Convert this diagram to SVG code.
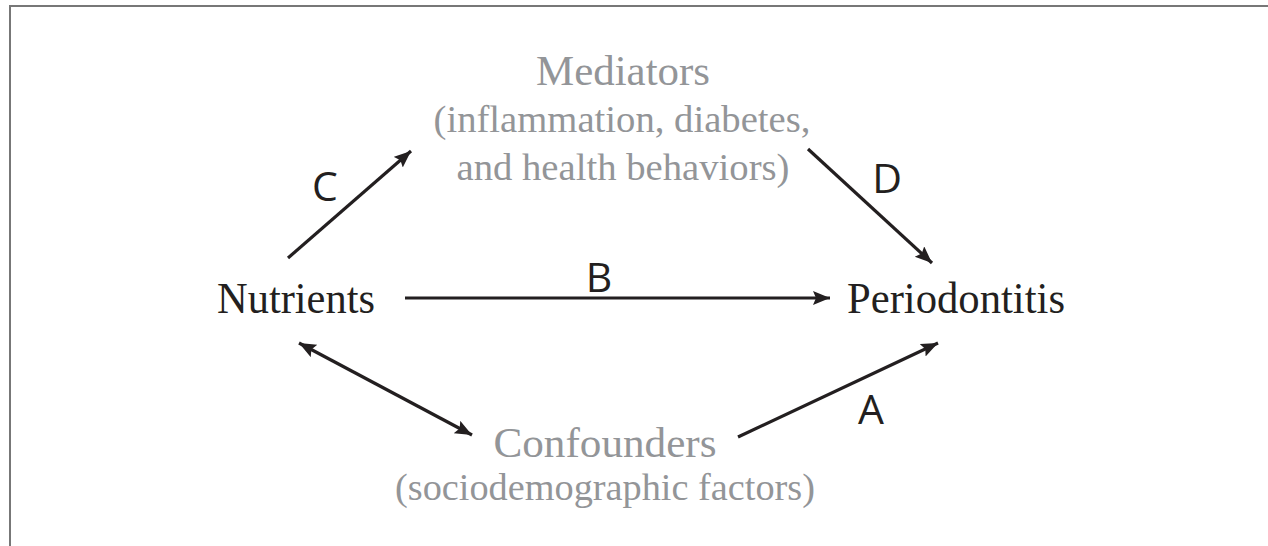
<svg xmlns="http://www.w3.org/2000/svg" width="1268" height="546" viewBox="0 0 1268 546">
  <style>
    .lbl { font-family: "Liberation Serif", "Times New Roman", serif; fill: #231f20; font-size: 44px; }
    .title { font-family: "Liberation Serif", "Times New Roman", serif; fill: #939598; font-size: 43px; }
    .sub { font-family: "Liberation Serif", "Times New Roman", serif; fill: #939598; font-size: 38px; }
    .letter { font-family: "Open Sans", "Liberation Sans", sans-serif; fill: #231f20; font-size: 41px; }
    .conn { stroke: #231f20; stroke-width: 3.2; fill: none; }
  </style>
  <defs>
    <marker id="ah" markerUnits="userSpaceOnUse" markerWidth="20" markerHeight="16" refX="17" refY="7" orient="auto-start-reverse" viewBox="0 0 20 16">
      <path d="M0,0 L17,7 L0,14 L3,7 z" fill="#231f20"/>
    </marker>
  </defs>
  <rect x="0" y="0" width="1268" height="546" fill="#ffffff"/>
  <g id="frame">
    <path d="M10,546 L10,6 L1268,6" stroke="#777777" stroke-width="2" fill="none"/>
  </g>
  <g id="mediators">
    <text class="title" x="623" y="85" text-anchor="middle" textLength="174" lengthAdjust="spacingAndGlyphs">Mediators</text>
    <text class="sub" x="622" y="132" text-anchor="middle" textLength="377" lengthAdjust="spacingAndGlyphs">(inflammation, diabetes,</text>
    <text class="sub" x="623" y="180" text-anchor="middle" textLength="333" lengthAdjust="spacingAndGlyphs">and health behaviors)</text>
  </g>
  <g id="nutrients">
    <text class="lbl" x="217" y="313" textLength="158" lengthAdjust="spacingAndGlyphs">Nutrients</text>
  </g>
  <g id="periodontitis">
    <text class="lbl" x="847" y="313" textLength="218" lengthAdjust="spacingAndGlyphs">Periodontitis</text>
  </g>
  <g id="confounders">
    <text class="title" x="605" y="457" text-anchor="middle" textLength="223" lengthAdjust="spacingAndGlyphs">Confounders</text>
    <text class="sub" x="605" y="500" text-anchor="middle" textLength="420" lengthAdjust="spacingAndGlyphs">(sociodemographic factors)</text>
  </g>
  <g id="connectors">
    <line class="conn" x1="288" y1="258" x2="411" y2="151" marker-end="url(#ah)"/>
    <line class="conn" x1="808" y1="149" x2="932" y2="263" marker-end="url(#ah)"/>
    <line class="conn" x1="405" y1="298" x2="830" y2="298" marker-end="url(#ah)"/>
    <line class="conn" x1="299" y1="343" x2="472" y2="435" marker-start="url(#ah)" marker-end="url(#ah)"/>
    <line class="conn" x1="738" y1="437" x2="938" y2="343" marker-end="url(#ah)"/>
  </g>
  <g id="labels">
    <text class="letter" x="325" y="201" text-anchor="middle">C</text>
    <text class="letter" x="887" y="193" text-anchor="middle">D</text>
    <text class="letter" x="599" y="292" text-anchor="middle">B</text>
    <text class="letter" x="871" y="424" text-anchor="middle">A</text>
  </g>
</svg>
